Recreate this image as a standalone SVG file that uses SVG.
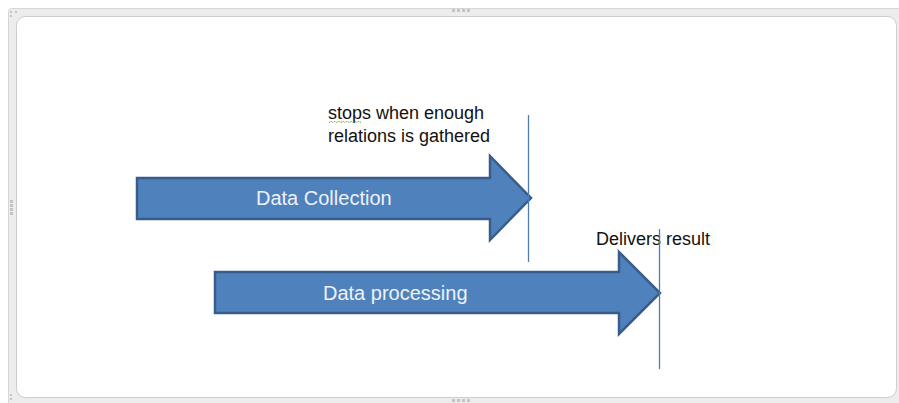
<svg xmlns="http://www.w3.org/2000/svg" width="899" height="403" viewBox="0 0 899 403">
  <defs>
    <style>
      .arrow { fill: #4f81bd; stroke: #385d8a; stroke-width: 2.5; stroke-linejoin: miter; }
      .label { font-family: "Liberation Sans", Arial, sans-serif; font-size: 20px; fill: #eef2f8; }
      .note { font-family: "Liberation Sans", Arial, sans-serif; font-size: 18px; fill: #111111; }
      .marker-line { stroke: #4f7db3; stroke-width: 1.3; fill: none; }
      .handle { fill: #c4c4c4; }
    </style>
  </defs>
  <rect x="0" y="0" width="899" height="403" fill="#ffffff"/>
  <g id="frame">
    <rect x="8.5" y="8.5" width="900" height="400" rx="3" fill="#ededed" stroke="#d6d6d6" stroke-width="1"/>
    <rect x="16.5" y="16.5" width="880" height="381" rx="9" fill="#ffffff" stroke="#cdcdcd" stroke-width="1"/>
    <rect class="handle" x="452" y="9" width="3" height="3"/>
    <rect class="handle" x="457" y="9" width="3" height="3"/>
    <rect class="handle" x="462" y="9" width="3" height="3"/>
    <rect class="handle" x="467" y="9" width="3" height="3"/>
    <rect class="handle" x="452" y="399" width="3" height="3"/>
    <rect class="handle" x="457" y="399" width="3" height="3"/>
    <rect class="handle" x="462" y="399" width="3" height="3"/>
    <rect class="handle" x="467" y="399" width="3" height="3"/>
    <rect class="handle" x="10" y="200" width="3" height="3"/>
    <rect class="handle" x="10" y="204" width="3" height="3"/>
    <rect class="handle" x="10" y="208" width="3" height="3"/>
    <rect class="handle" x="10" y="212" width="3" height="3"/>
    <rect class="handle" x="10" y="11" width="2" height="2"/>
    <rect class="handle" x="15" y="11" width="2" height="2"/>
    <rect class="handle" x="10" y="15" width="2" height="2"/>
    <rect class="handle" x="10" y="398" width="2" height="2"/>
    <rect class="handle" x="10" y="394" width="2" height="2"/>
  </g>
  <g id="data-collection">
    <path class="arrow" d="M137,178 L490,178 L490,156 L531,198 L490,240 L490,219 L137,219 Z"/>
    <text class="label" x="256" y="205">Data Collection</text>
  </g>
  <g id="data-processing">
    <path class="arrow" d="M215,272 L619,272 L619,252 L660,293 L619,334 L619,313 L215,313 Z"/>
    <text class="label" x="323" y="300">Data processing</text>
  </g>
  <g id="note-stop">
    <text class="note" x="328" y="119">stops when enough</text>
    <text class="note" x="328" y="142">relations is gathered</text>
    <path d="M329,122.5 l2,-1.2 l2,1.2 l2,-1.2 l2,1.2 l2,-1.2 l2,1.2 l2,-1.2 l2,1.2 l2,-1.2 l2,1.2 l2,-1.2 l2,1.2 l2,-1.2 l2,1.2 l2,-1.2 l2,1.2" fill="none" stroke="#5c9e3c" stroke-width="1" stroke-dasharray="1.2,0.8"/>
  </g>
  <g id="note-deliver">
    <text class="note" x="596" y="245">Delivers result</text>
  </g>
  <g id="connectors">
    <line class="marker-line" x1="528.5" y1="115" x2="528.5" y2="262"/>
    <line class="marker-line" x1="659.5" y1="229" x2="659.5" y2="369"/>
  </g>
</svg>
